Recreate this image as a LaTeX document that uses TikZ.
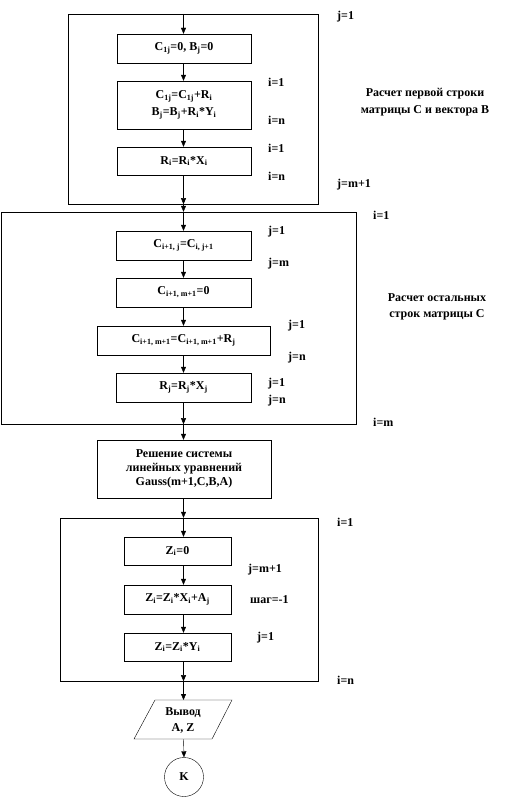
\documentclass[tikz,border=0pt]{standalone}
\usepackage{fontspec}
\setmainfont{Liberation Serif}
\usetikzlibrary{arrows.meta}
\newcommand\lo[1]{\textsubscript{#1}}
\tikzset{
  every node/.style={font=\fontsize{12}{13}\bfseries\selectfont},
  blk/.style={draw, rectangle, inner sep=0pt, align=center},
  frame/.style={draw, rectangle, inner sep=0pt},
  lbl/.style={anchor=west, inner sep=0pt},
  note/.style={align=center, inner sep=0pt},
  arr/.style={-{Triangle[length=6pt,width=5pt]}},
  line width=0.6pt
}
\begin{document}
\begin{tikzpicture}[x=1pt,y=-1pt]
\useasboundingbox (0,0) rectangle (523,800);
% frames
\node[frame, minimum width=250, minimum height=190] (o1) at (193,109) {};
\node[frame, minimum width=355, minimum height=212] (o2) at (178.5,318) {};
\node[frame, minimum width=258, minimum height=163] (o3) at (189,599.5) {};
\coordinate (ax) at (183.5,0);
% blocks, first frame
\node[blk, minimum width=134, minimum height=29] (b1) at (184,48.5) {C\lo{1j}=0, B\lo{j}=0};
\node[blk, minimum width=134, minimum height=48] (b2) at (184,105) {C\lo{1j}=C\lo{1j}+R\lo{i}\\[4pt]B\lo{j}=B\lo{j}+R\lo{i}*Y\lo{i}};
\node[blk, minimum width=134, minimum height=28] (b3) at (184,161) {R\lo{i}=R\lo{i}*X\lo{i}};
% second frame
\node[blk, minimum width=135, minimum height=29] (b4) at (183.5,245.5) {C\lo{i+1, j}=C\lo{i, j+1}};
\node[blk, minimum width=135, minimum height=29] (b5) at (183.5,292.5) {C\lo{i+1, m+1}=0};
\node[blk, minimum width=173, minimum height=29] (b6) at (183.5,340.5) {C\lo{i+1, m+1}=C\lo{i+1, m+1}+R\lo{j}};
\node[blk, minimum width=135, minimum height=29] (b7) at (183.5,387.5) {R\lo{j}=R\lo{j}*X\lo{j}};
% gauss
\node[blk, minimum width=174, minimum height=58] (g) at (184,469) {Решение системы\\[1pt]линейных уравнений\\[1pt]Gauss(m+1,C,B,A)};
% third frame
\node[blk, minimum width=107, minimum height=28] (z1) at (177.5,551) {Z\lo{i}=0};
\node[blk, minimum width=107, minimum height=29] (z2) at (177.5,599.5) {Z\lo{i}=Z\lo{i}*X\lo{i}+A\lo{j}};
\node[blk, minimum width=107, minimum height=28] (z3) at (177.5,647) {Z\lo{i}=Z\lo{i}*Y\lo{i}};
% output parallelogram
\coordinate (p1) at (155,700);
\coordinate (p2) at (232,700);
\coordinate (p3) at (212,739);
\coordinate (p4) at (134,739);
\coordinate (ptop) at (183.5,700);
\coordinate (pbot) at (183.5,739);
\draw (p1) -- (p2) -- (p3) -- (p4) -- cycle;
\node[note] (out) at (183,720) {Вывод\\[3pt]A, Z};
\node[draw, circle, minimum size=39, inner sep=0pt] (k) at (184,777) {K};
% connectors
\draw[arr] (o1.north -| ax) -- (b1.north -| ax);
\draw[arr] (b1.south -| ax) -- (b2.north -| ax);
\draw[arr] (b2.south -| ax) -- (b3.north -| ax);
\draw[arr] (b3.south -| ax) -- (o1.south -| ax);
\draw[arr] (o1.south -| ax) -- (o2.north -| ax);
\draw[arr] (o2.north -| ax) -- (b4.north -| ax);
\draw[arr] (b4.south -| ax) -- (b5.north -| ax);
\draw[arr] (b5.south -| ax) -- (b6.north -| ax);
\draw[arr] (b6.south -| ax) -- (b7.north -| ax);
\draw[arr] (b7.south -| ax) -- (o2.south -| ax);
\draw[arr] (o2.south -| ax) -- (g.north -| ax);
\draw[arr] (g.south -| ax) -- (o3.north -| ax);
\draw[arr] (o3.north -| ax) -- (z1.north -| ax);
\draw[arr] (z1.south -| ax) -- (z2.north -| ax);
\draw[arr] (z2.south -| ax) -- (z3.north -| ax);
\draw[arr] (z3.south -| ax) -- (o3.south -| ax);
\draw[arr] (o3.south -| ax) -- (ptop);
\draw[arr] (pbot) -- (k.north);
% labels
\node[lbl] (l1) at (337,17) {j=1};
\node[lbl] (l2) at (268,82) {i=1};
\node[lbl] (l3) at (268,120) {i=n};
\node[lbl] (l4) at (268,148) {i=1};
\node[lbl] (l5) at (268,176) {i=n};
\node[lbl] (l6) at (337,185) {j=m+1};
\node[note] (t1) at (425,102) {Расчет первой строки\\[4pt]матрицы C и вектора B};
\node[lbl] (l7) at (373,215) {i=1};
\node[lbl] (l8) at (268,232) {j=1};
\node[lbl] (l9) at (268,264) {j=m};
\node[lbl] (l10) at (288,326) {j=1};
\node[lbl] (l11) at (288,358) {j=n};
\node[lbl] (l12) at (268,384) {j=1};
\node[lbl] (l13) at (268,401) {j=n};
\node[lbl] (l14) at (373,422) {i=m};
\node[note] (t2) at (437,307) {Расчет остальных\\[3pt]строк матрицы C};
\node[lbl] (l15) at (337,522) {i=1};
\node[lbl] (l16) at (248,570) {j=m+1};
\node[lbl] (l17) at (250,600) {шаг=-1};
\node[lbl] (l18) at (257,638) {j=1};
\node[lbl] (l19) at (337,680) {i=n};
\end{tikzpicture}
\end{document}
